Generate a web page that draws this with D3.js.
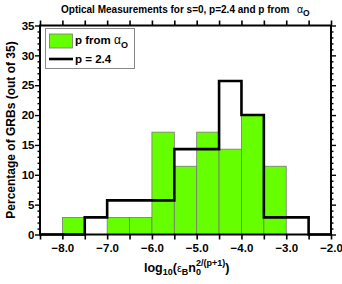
<!DOCTYPE html>
<html>
<head>
<meta charset="utf-8">
<style>
body { margin: 0; background: #fff; }
svg text { font-family: "Liberation Sans", Arial, Helvetica, sans-serif; font-weight: bold; fill: #000; }
</style>
</head>
<body>
<div id="vis"></div>
<script src="https://cdnjs.cloudflare.com/ajax/libs/d3/7.8.5/d3.min.js"></script>
<script>
// left edge of each bin, 0.5 wide
var binEdges = [-8.5, -8.0, -7.5, -7.0, -6.5, -6.0, -5.5, -5.0, -4.5, -4.0, -3.5, -3.0, -2.5];
// percentage of GRBs, p from alpha_O (green bars)
var alphaPct = [0, 2.86, 0, 2.86, 2.86, 17.14, 11.43, 17.14, 14.29, 20.0, 11.43, 0, 0];
// percentage of GRBs, p = 2.4 (black step)
var fixedPct = [0, 0, 2.86, 5.71, 5.71, 5.71, 14.29, 14.29, 25.71, 20.0, 2.86, 2.86, 0];
var xTickLabels = [-8, -7, -6, -5, -4, -3, -2];
var yTickLabels = [0, 5, 10, 15, 20, 25, 30, 35];

var W = 342, H = 284;
var svg = d3.select("#vis").append("svg").attr("width", W).attr("height", H);

var x = d3.scaleLinear().domain([-8.5, -2.0]).range([40, 331]);
var y = d3.scaleLinear().domain([0, 35]).range([234.5, 25.5]);
var bw = 0.5;

// green bars
svg.selectAll("rect.bar")
  .data(binEdges.map(function(e, i) { return {x0: e, v: alphaPct[i]}; }).filter(function(d) { return d.v > 0; }))
  .enter().append("rect")
  .attr("class", "bar")
  .attr("x", function(d) { return x(d.x0); })
  .attr("width", function(d) { return x(d.x0 + bw) - x(d.x0); })
  .attr("y", function(d) { return y(d.v); })
  .attr("height", function(d) { return y(0) - y(d.v); })
  .attr("fill", "#66ff00")
  .attr("stroke", "#777")
  .attr("stroke-width", 0.8);

// black step line
var stepPts = binEdges.map(function(e, i) { return [e, fixedPct[i]]; });
stepPts.push([-2.0, 0]);
var line = d3.line().x(function(d) { return x(d[0]); }).y(function(d) { return y(d[1]); }).curve(d3.curveStepAfter);
svg.append("path").attr("d", line(stepPts))
  .attr("fill", "none").attr("stroke", "#000").attr("stroke-width", 2.6)
  .attr("stroke-linejoin", "miter");

// frame
svg.append("rect").attr("x", x(-8.5)).attr("y", y(35))
  .attr("width", x(-2.0) - x(-8.5)).attr("height", y(0) - y(35))
  .attr("fill", "none").attr("stroke", "#000").attr("stroke-width", 2);

var xTicks = d3.range(-8.5, -1.99, 0.5);
var yMinor = d3.range(0, 35.01, 1);

function labelStyle(sel) {
  sel.style("font-family", "'Liberation Sans', Arial, sans-serif")
    .style("font-weight", "bold").style("font-size", "11.5px").attr("fill", "#000");
}

// bottom axis
var gBottom = svg.append("g").attr("transform", "translate(0," + y(0) + ")")
  .call(d3.axisBottom(x).tickValues(xTicks).tickSize(5).tickSizeOuter(0)
    .tickFormat(function(d) { return xTickLabels.indexOf(d) >= 0 ? d3.format(".1f")(d).replace("-", "\u2013") : ""; }));
gBottom.select(".domain").remove();
gBottom.selectAll("line").attr("stroke-width", 1.6);
gBottom.selectAll("text").attr("y", 9).attr("dy", "0.75em").call(labelStyle);

// top axis
var gTop = svg.append("g").attr("transform", "translate(0," + y(35) + ")")
  .call(d3.axisTop(x).tickValues(xTicks).tickSize(5).tickSizeOuter(0).tickFormat(""));
gTop.select(".domain").remove();
gTop.selectAll("line").attr("stroke-width", 1.6);

// left axis
var gLeft = svg.append("g").attr("transform", "translate(" + x(-8.5) + ",0)")
  .call(d3.axisLeft(y).tickValues(yMinor).tickSizeOuter(0)
    .tickSize(2.5).tickFormat(function(d) { return yTickLabels.indexOf(d) >= 0 ? d : ""; }));
gLeft.select(".domain").remove();
gLeft.selectAll(".tick").filter(function(d) { return d % 5 === 0; }).select("line").attr("x2", -5);
gLeft.selectAll("line").attr("stroke-width", 1.4);
gLeft.selectAll("text").attr("x", -5.5).call(labelStyle);

// right axis
var gRight = svg.append("g").attr("transform", "translate(" + x(-2.0) + ",0)")
  .call(d3.axisRight(y).tickValues(yMinor).tickSizeOuter(0).tickSize(2.5).tickFormat(""));
gRight.select(".domain").remove();
gRight.selectAll(".tick").filter(function(d) { return d % 5 === 0; }).select("line").attr("x2", 5);
gRight.selectAll("line").attr("stroke-width", 1.4);

// legend
var lg = svg.append("g");
lg.append("rect").attr("x", 45.5).attr("y", 28.5).attr("width", 89).attr("height", 40)
  .attr("fill", "#fff").attr("stroke", "#888").attr("stroke-width", 1);
lg.append("rect").attr("x", 49.5).attr("y", 34).attr("width", 23).attr("height", 14)
  .attr("fill", "#66ff00").attr("stroke", "#777").attr("stroke-width", 0.8);
var t1 = lg.append("text").attr("x", 75).attr("y", 44).attr("font-size", 11.5);
t1.append("tspan").text("p from ");
t1.append("tspan").text("\u03b1").attr("font-weight", "normal").attr("font-size", 12);
t1.append("tspan").text("O").attr("dy", 4).attr("font-size", 9);
lg.append("line").attr("x1", 49).attr("x2", 73).attr("y1", 59).attr("y2", 59)
  .attr("stroke", "#000").attr("stroke-width", 2.6);
lg.append("text").attr("x", 75).attr("y", 63).attr("font-size", 11.5).text("p = 2.4");

// title
var tt = svg.append("text").attr("x", 61).attr("y", 13).attr("font-size", 10);
tt.append("tspan").text("Optical Measurements for s=0, p=2.4 and p from");
tt.append("tspan").text("\u03b1").attr("x", 297).attr("font-weight", "normal").attr("font-size", 10.5);
tt.append("tspan").text("O").attr("dy", 3).attr("font-size", 8.5);

// y label
svg.append("text").attr("transform", "translate(15," + y(17.5) + ") rotate(-90)")
  .attr("text-anchor", "middle").attr("font-size", 12)
  .text("Percentage of GRBs (out of 35)");

// x label
var xl = svg.append("text").attr("x", 144).attr("y", 272).attr("font-size", 12.5);
xl.append("tspan").text("log");
xl.append("tspan").text("10").attr("dy", 3).attr("font-size", 9);
xl.append("tspan").text("(").attr("dy", -3);
xl.append("tspan").text("\u03b5").attr("font-weight", "normal").attr("font-size", 11);
xl.append("tspan").text("B").attr("dy", 3).attr("font-size", 9);
xl.append("tspan").text("n").attr("dy", -3);
xl.append("tspan").text("0").attr("dy", 3).attr("font-size", 9);
xl.append("tspan").text("2/(p+1)").attr("dx", -5).attr("dy", -9).attr("font-size", 9);
xl.append("tspan").text(")").attr("dy", 6);
</script>
</body>
</html>
